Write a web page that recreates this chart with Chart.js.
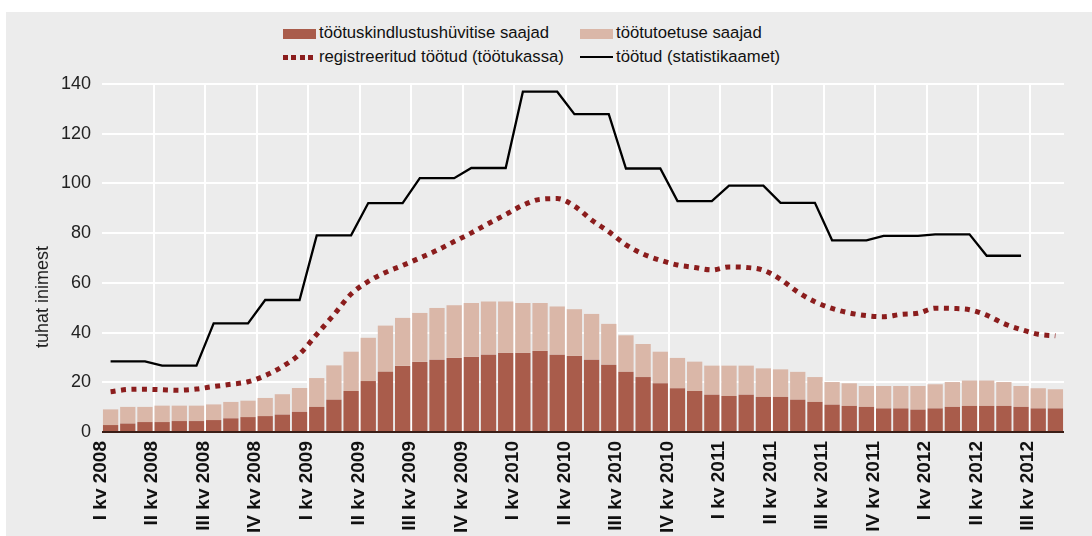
<!DOCTYPE html>
<html><head><meta charset="utf-8">
<script src="https://cdn.jsdelivr.net/npm/chart.js@4.4.1/dist/chart.umd.min.js"></script>
<style>
html,body{margin:0;padding:0;background:#fff;width:1092px;height:536px;overflow:hidden;}
#bg{position:absolute;left:6px;top:12px;width:1086px;height:524px;background:#ececec;}
#c{position:absolute;left:0;top:0;}
.lg{position:absolute;font-family:"Liberation Sans",Arial,sans-serif;font-size:16.7px;color:#111;white-space:nowrap;line-height:20px;}
.sw{position:absolute;}
</style></head>
<body>
<div id="bg"></div>
<div class="sw" style="left:283px;top:29px;width:33px;height:10px;background:#a95c4b"></div>
<div class="lg" style="left:319px;top:23px">töötuskindlustushüvitise saajad</div>
<div class="sw" style="left:580px;top:29px;width:33px;height:10px;background:#dab7a8"></div>
<div class="lg" style="left:616px;top:23px">töötutoetuse saajad</div>
<div class="sw" style="left:283px;top:55px;width:30px;height:5px;background:repeating-linear-gradient(90deg,#8b1d1d 0 5px,transparent 5px 8.3px)"></div>
<div class="lg" style="left:319px;top:47px">registreeritud töötud (töötukassa)</div>
<div class="sw" style="left:580px;top:56px;width:33px;height:2px;background:#000"></div>
<div class="lg" style="left:616px;top:47px">töötud (statistikaamet)</div>
<canvas id="c" width="1092" height="536"></canvas>
<script>
const months = [
 '2008-01','2008-02','2008-03','2008-04','2008-05','2008-06','2008-07','2008-08','2008-09','2008-10','2008-11','2008-12',
 '2009-01','2009-02','2009-03','2009-04','2009-05','2009-06','2009-07','2009-08','2009-09','2009-10','2009-11','2009-12',
 '2010-01','2010-02','2010-03','2010-04','2010-05','2010-06','2010-07','2010-08','2010-09','2010-10','2010-11','2010-12',
 '2011-01','2011-02','2011-03','2011-04','2011-05','2011-06','2011-07','2011-08','2011-09','2011-10','2011-11','2011-12',
 '2012-01','2012-02','2012-03','2012-04','2012-05','2012-06','2012-07','2012-08'];
const quarterLabels = ['I kv 2008','II kv 2008','III kv 2008','IV kv 2008','I kv 2009','II kv 2009','III kv 2009','IV kv 2009',
 'I kv 2010','II kv 2010','III kv 2010','IV kv 2010','I kv 2011','II kv 2011','III kv 2011','IV kv 2011','I kv 2012','II kv 2012','III kv 2012'];
const yTicks = [0,20,40,60,80,100,120,140];
const yAxisTitle = 'tuhat inimest';

const kindlustus = [2.8,3.4,4.0,4.0,4.4,4.4,4.8,5.5,6.0,6.4,7.0,8.1,
 10.1,13.0,16.5,20.5,24.2,26.6,28.2,29.1,29.8,30.2,31.1,31.8,
 31.8,32.6,31.1,30.6,29.1,27.1,24.2,22.1,19.6,17.6,16.5,15.0,
 14.5,15.0,14.1,14.1,13.0,12.1,11.0,10.5,10.1,9.5,9.5,9.0,
 9.5,10.1,10.5,10.5,10.5,10.1,9.5,9.5];
const toetus = [6.3,6.7,6.1,6.6,6.2,6.2,6.3,6.6,6.6,7.3,8.2,9.6,
 11.6,13.8,15.8,17.4,18.6,19.3,19.7,20.8,21.2,21.7,21.4,20.7,
 20.1,19.3,19.4,18.8,18.4,16.4,14.7,13.3,12.7,12.2,11.8,11.7,
 12.2,11.7,11.5,11.1,11.2,10.0,9.1,9.1,8.4,9.0,9.0,9.5,
 9.7,10.0,10.2,10.2,9.6,8.4,8.1,7.7];
const registreeritud = [16.2,17.1,17.2,17.0,16.8,17.3,18.3,19.2,20.2,22.7,26.3,31.3,
 39.3,47.2,55.5,60.6,64.2,67.0,70.0,73.1,76.6,80.1,83.9,87.5,
 91.2,93.6,93.9,90.9,85.3,80.6,75.3,71.6,69.1,67.2,66.2,65.2,
 66.4,66.2,65.1,61.4,56.3,52.4,49.7,47.9,46.8,46.4,47.3,47.8,
 49.8,49.7,49.2,47.0,43.6,41.2,39.3,38.7];
const statistikaamet = [28.4,28.4,28.4,26.7,26.7,26.7,43.7,43.7,43.7,53.1,53.1,53.1,
 79.1,79.1,79.1,92.1,92.1,92.1,102.1,102.1,102.1,106.2,106.2,106.2,
 136.9,136.9,136.9,127.9,127.9,127.9,106.0,106.0,106.0,92.9,92.9,92.9,
 99.1,99.1,99.1,92.2,92.2,92.2,77.1,77.1,77.1,78.9,78.9,78.9,
 79.5,79.5,79.5,70.9,70.9,70.9,null,null];

const FAM = '"Liberation Sans", Arial, sans-serif';

const yTitlePlugin = {
  id: 'yTitlePlugin',
  afterDraw(chart) {
    const c = chart.ctx;
    c.save();
    c.translate(43, 297);
    c.rotate(-Math.PI / 2);
    c.font = '18px ' + FAM;
    c.fillStyle = '#222';
    c.textAlign = 'center';
    c.textBaseline = 'middle';
    c.fillText(yAxisTitle, 0, 0);
    c.restore();
  }
};
const baselinePlugin = {
  id: 'baselinePlugin',
  afterDatasetsDraw(chart) {
    const c = chart.ctx, a = chart.chartArea;
    const y0 = chart.scales.y.getPixelForValue(0);
    c.save();
    c.strokeStyle = '#3a1e17';
    c.lineWidth = 2;
    c.beginPath();
    c.moveTo(a.left, y0);
    c.lineTo(a.right, y0);
    c.stroke();
    c.restore();
  }
};

new Chart(document.getElementById('c'), {
  data: {
    labels: months,
    datasets: [
      {type:'line', label:'töötud (statistikaamet)', data:statistikaamet, borderColor:'#000', borderWidth:2.3,
       pointRadius:0, tension:0, stack:'s1', order:0},
      {type:'line', label:'registreeritud töötud (töötukassa)', data:registreeritud, borderColor:'#8b1d1d', borderWidth:5,
       borderDash:[5,5.5], borderCapStyle:'butt', pointRadius:0, cubicInterpolationMode:'monotone', stack:'s2', order:1},
      {type:'bar', label:'töötuskindlustushüvitise saajad', data:kindlustus, backgroundColor:'#a95c4b',
       stack:'b', order:2, barPercentage:0.89, categoryPercentage:1},
      {type:'bar', label:'töötutoetuse saajad', data:toetus, backgroundColor:'#dab7a8',
       stack:'b', order:2, barPercentage:0.89, categoryPercentage:1}
    ]
  },
  options: {
    responsive:false, animation:false, devicePixelRatio:1,
    layout:{padding:{left:0, right:28, top:84, bottom:0}},
    plugins:{legend:{display:false}, tooltip:{enabled:false}},
    scales:{
      x:{
        stacked:true, offset:true,
        grid:{offset:true, drawTicks:false, lineWidth:2,
          color: c => (c.index > 0 && c.index % 3 === 0 && c.index < months.length) ? '#ffffff' : 'rgba(0,0,0,0)'},
        border:{display:false},
        ticks:{autoSkip:false, minRotation:90, maxRotation:90, labelOffset:-10, padding:9, color:'#111',
          font:{family:FAM, size:19, weight:'bold'},
          callback:(v, i) => (i % 3 === 0 ? quarterLabels[i / 3] : '')},
        afterFit: s => { s.height = 104; }
      },
      y:{
        stacked:true, min:0, max:140,
        afterBuildTicks: s => { s.ticks = yTicks.map(v => ({value:v})); },
        ticks:{padding:11, color:'#222', font:{family:FAM, size:18}},
        grid:{color:'#ffffff', lineWidth:2, drawTicks:false},
        border:{display:false},
        afterFit: s => { s.width = 102; }
      }
    }
  },
  plugins:[yTitlePlugin, baselinePlugin]
});
</script>
</body></html>
